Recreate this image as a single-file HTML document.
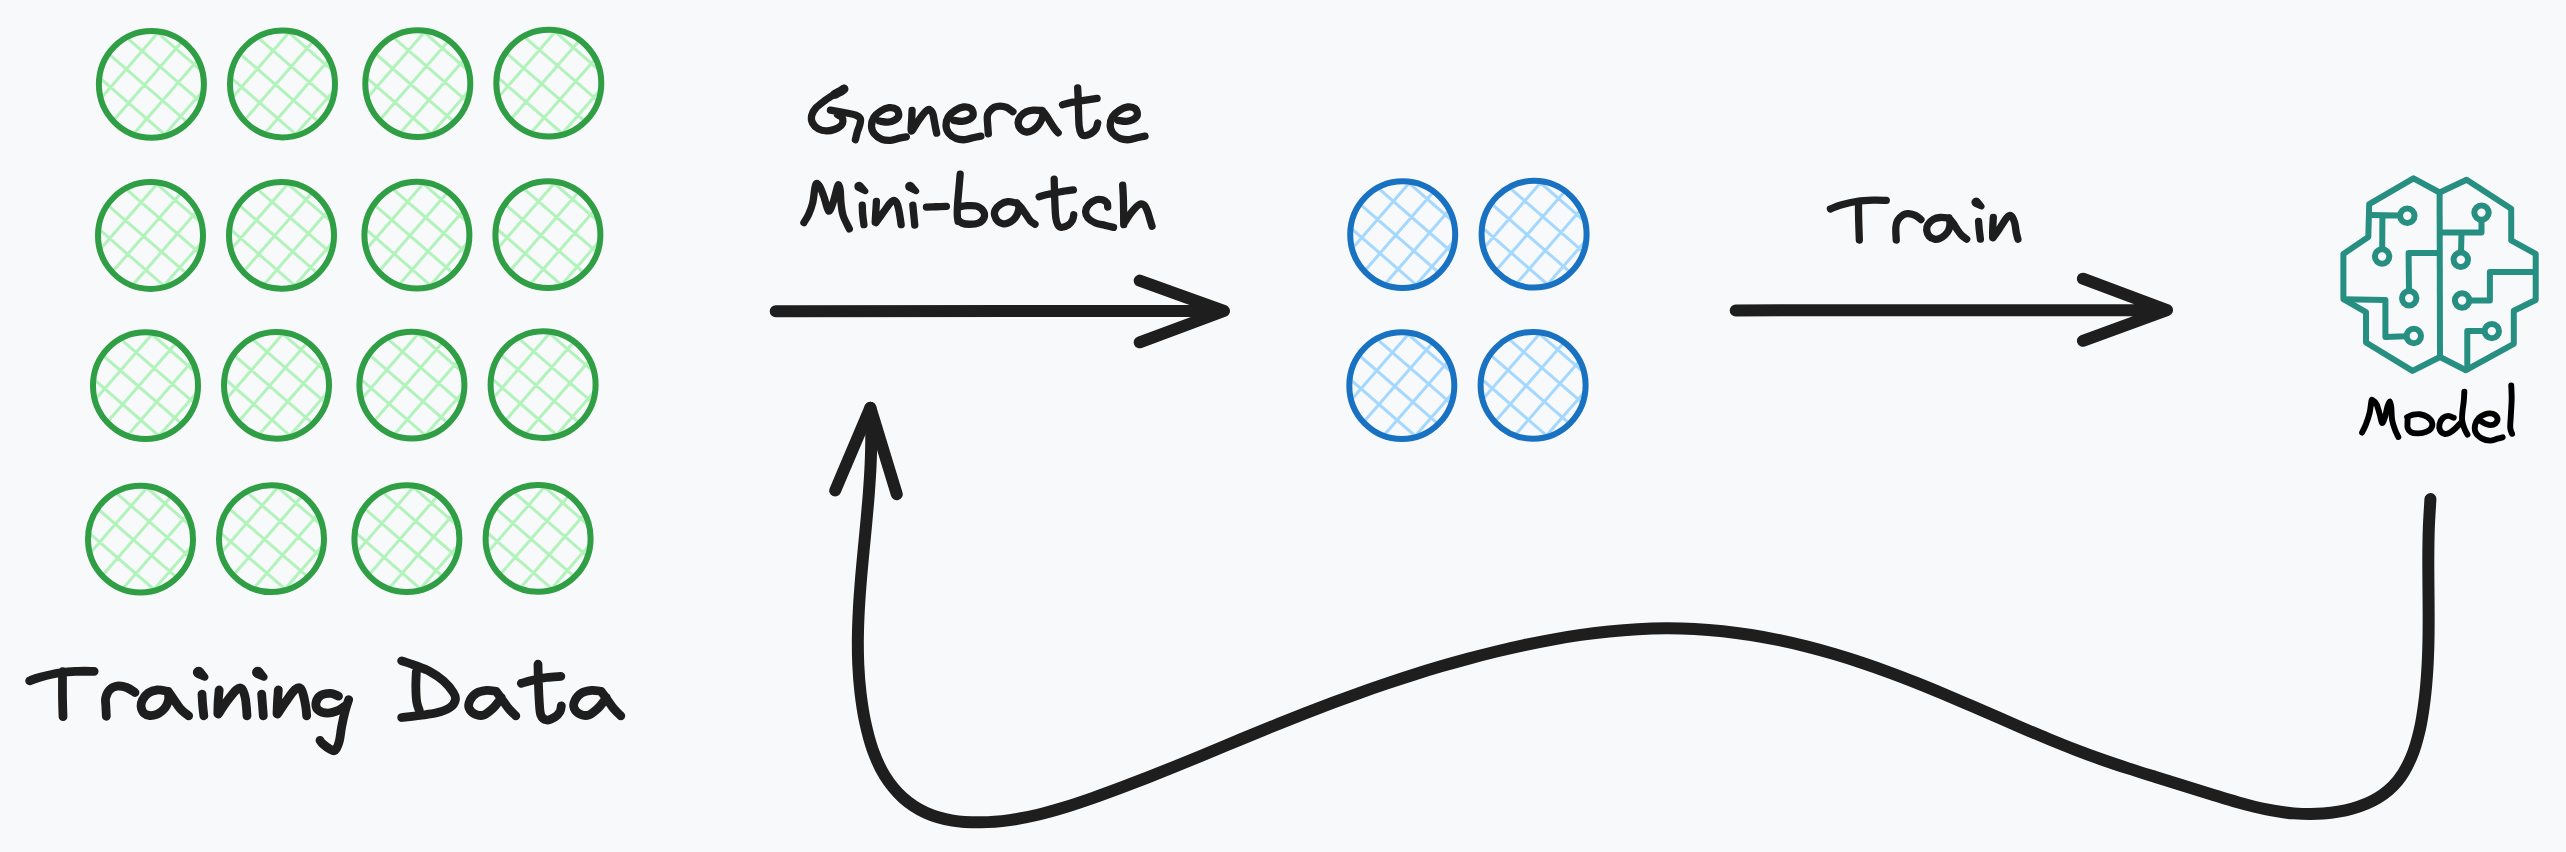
<!DOCTYPE html>
<html><head><meta charset="utf-8"><title>Mini-batch training</title>
<style>html,body{margin:0;padding:0;background:#f8f9fa;overflow:hidden;font-family:"Liberation Sans",sans-serif}svg{display:block}</style>
</head><body><svg width="2566" height="852" viewBox="0 0 2566 852"><rect width="2566" height="852" fill="#f8f9fa"/><path d="M100.8 98.5L159 31.5M113.1 120.9L182.4 41.2M133.2 134.4L198 59.8M163.3 136.3L203.6 90M166.1 135.6L99.3 77.5M187.9 122.7L108.4 53.6M200.9 102.2L126.4 37.4M202.4 71.7L155.7 31.1M231.9 98.2L290.1 31.2M244.2 120.6L313.5 40.9M264.3 134.1L329.1 59.5M294.4 136L334.7 89.7M297.2 135.3L230.4 77.2M319 122.4L239.5 53.3M332 101.9L257.5 37.1M333.5 71.4L286.8 30.8M367.2 97.9L425.4 30.9M379.5 120.3L448.8 40.6M399.6 133.8L464.4 59.2M429.7 135.7L470 89.4M432.5 135L365.7 76.9M454.3 122.1L374.8 53M467.3 101.6L392.8 36.8M468.8 71.1L422.1 30.5M498.2 97.4L556.4 30.4M510.5 119.8L579.8 40.1M530.6 133.3L595.4 58.7M560.7 135.2L601 88.9M563.5 134.5L496.7 76.4M585.3 121.6L505.8 52.5M598.3 101.1L523.8 36.3M599.8 70.6L553.1 30M99.9 249.7L158.1 182.7M112.2 272.1L181.5 192.4M132.3 285.6L197.1 211M162.4 287.5L202.7 241.2M165.2 286.8L98.4 228.7M187 273.9L107.5 204.8M200 253.4L125.5 188.6M201.5 222.9L154.8 182.3M230.9 249.5L289.1 182.5M243.2 271.9L312.5 192.2M263.3 285.4L328.1 210.8M293.4 287.3L333.7 241M296.2 286.6L229.4 228.5M318 273.7L238.5 204.6M331 253.2L256.5 188.4M332.5 222.7L285.8 182.1M366.3 249.3L424.5 182.3M378.6 271.7L447.9 192M398.7 285.2L463.5 210.6M428.8 287.1L469.1 240.8M431.6 286.4L364.8 228.3M453.4 273.5L373.9 204.4M466.4 253L391.9 188.2M467.9 222.5L421.2 181.9M497.3 248.9L555.5 181.9M509.6 271.3L578.9 191.6M529.7 284.8L594.5 210.2M559.8 286.7L600.1 240.4M562.6 286L495.8 227.9M584.4 273.1L504.9 204M597.4 252.6L522.9 187.8M598.9 222.1L552.2 181.5M94.9 399.9L153.1 332.9M107.2 422.3L176.5 342.6M127.3 435.8L192.1 361.2M157.4 437.7L197.7 391.4M160.2 437L93.4 378.9M182 424.1L102.5 355M195 403.6L120.5 338.8M196.5 373.1L149.8 332.5M225.9 399.5L284.1 332.5M238.2 421.9L307.5 342.2M258.3 435.4L323.1 360.8M288.4 437.3L328.7 391M291.2 436.6L224.4 378.5M313 423.7L233.5 354.6M326 403.2L251.5 338.4M327.5 372.7L280.8 332.1M361.3 399.3L419.5 332.3M373.6 421.7L442.9 342M393.7 435.2L458.5 360.6M423.8 437.1L464.1 390.8M426.6 436.4L359.8 378.3M448.4 423.5L368.9 354.4M461.4 403L386.9 338.2M462.9 372.5L416.2 331.9M492.5 398.9L550.7 331.9M504.8 421.3L574.1 341.6M524.9 434.8L589.7 360.2M555 436.7L595.3 390.4M557.8 436L491 377.9M579.6 423.1L500.1 354M592.6 402.6L518.1 337.8M594.1 372.1L547.4 331.5M89.9 553.4L148.1 486.4M102.2 575.8L171.5 496.1M122.3 589.3L187.1 514.7M152.4 591.2L192.7 544.9M155.2 590.5L88.4 532.4M177 577.6L97.5 508.5M190 557.1L115.5 492.3M191.5 526.6L144.8 486M220.9 552.9L279.1 485.9M233.2 575.3L302.5 495.6M253.3 588.8L318.1 514.2M283.4 590.7L323.7 544.4M286.2 590L219.4 531.9M308 577.1L228.5 508M321 556.6L246.5 491.8M322.5 526.1L275.8 485.5M356.3 552.8L414.5 485.8M368.6 575.2L437.9 495.5M388.7 588.7L453.5 514.1M418.8 590.6L459.1 544.3M421.6 589.9L354.8 531.8M443.4 577L363.9 507.9M456.4 556.5L381.9 491.7M457.9 526L411.2 485.4M487.5 552.6L545.7 485.6M499.8 575L569.1 495.3M519.9 588.5L584.7 513.9M550 590.4L590.3 544.1M552.8 589.7L486 531.6M574.6 576.8L495.1 507.7M587.6 556.3L513.1 491.5M589.1 525.8L542.4 485.2" stroke="#b2f2bb" stroke-width="3" fill="none" stroke-linecap="round"/><g fill="none" stroke="#2f9e44" stroke-width="6"><ellipse cx="151.4" cy="84.3" rx="52.5" ry="53.4"/><ellipse cx="282.5" cy="84" rx="52.5" ry="53.4"/><ellipse cx="417.8" cy="83.7" rx="52.5" ry="53.4"/><ellipse cx="548.8" cy="83.2" rx="52.5" ry="53.4"/><ellipse cx="150.5" cy="235.5" rx="52.5" ry="53.4"/><ellipse cx="281.5" cy="235.3" rx="52.5" ry="53.4"/><ellipse cx="416.9" cy="235.1" rx="52.5" ry="53.4"/><ellipse cx="547.9" cy="234.7" rx="52.5" ry="53.4"/><ellipse cx="145.5" cy="385.7" rx="52.5" ry="53.4"/><ellipse cx="276.5" cy="385.3" rx="52.5" ry="53.4"/><ellipse cx="411.9" cy="385.1" rx="52.5" ry="53.4"/><ellipse cx="543.1" cy="384.7" rx="52.5" ry="53.4"/><ellipse cx="140.5" cy="539.2" rx="52.5" ry="53.4"/><ellipse cx="271.5" cy="538.7" rx="52.5" ry="53.4"/><ellipse cx="406.9" cy="538.6" rx="52.5" ry="53.4"/><ellipse cx="538.1" cy="538.4" rx="52.5" ry="53.4"/></g><path d="M1352.1 248.8L1410.3 181.8M1364.4 271.2L1433.7 191.5M1384.5 284.7L1449.3 210.1M1414.6 286.6L1454.9 240.3M1417.4 285.9L1350.6 227.8M1439.2 273L1359.7 203.9M1452.2 252.5L1377.7 187.7M1453.7 222L1407 181.4M1483.5 248.4L1541.7 181.4M1495.8 270.8L1565.1 191.1M1515.9 284.3L1580.7 209.7M1546 286.2L1586.3 239.9M1548.8 285.5L1482 227.4M1570.6 272.6L1491.1 203.5M1583.6 252.1L1509.1 187.3M1585.1 221.6L1538.4 181M1351.2 399.9L1409.4 332.9M1363.5 422.3L1432.8 342.6M1383.6 435.8L1448.4 361.2M1413.7 437.7L1454 391.4M1416.5 437L1349.7 378.9M1438.3 424.1L1358.8 355M1451.3 403.6L1376.8 338.8M1452.8 373.1L1406.1 332.5M1482.5 399.5L1540.7 332.5M1494.8 421.9L1564.1 342.2M1514.9 435.4L1579.7 360.8M1545 437.3L1585.3 391M1547.8 436.6L1481 378.5M1569.6 423.7L1490.1 354.6M1582.6 403.2L1508.1 338.4M1584.1 372.7L1537.4 332.1" stroke="#a5d8ff" stroke-width="3" fill="none" stroke-linecap="round"/><g fill="none" stroke="#1971c2" stroke-width="6"><ellipse cx="1402.7" cy="234.6" rx="52.5" ry="53.4"/><ellipse cx="1534.1" cy="234.2" rx="52.5" ry="53.4"/><ellipse cx="1401.8" cy="385.7" rx="52.5" ry="53.4"/><ellipse cx="1533.1" cy="385.3" rx="52.5" ry="53.4"/></g><g fill="none" stroke="#1e1e1e" stroke-width="12" stroke-linecap="round" stroke-linejoin="round"><path d="M775.7 311.2L1224 311M1139.7 280.6L1224 311L1139.7 342.3"/><path d="M1735.7 310.4L2167 310.1M2082.9 278.7L2167 310.1L2082.9 340.8"/><path d="M2430.42 499.10C2430.15 504.00 2429.15 518.80 2428.80 528.47C2428.44 538.14 2428.37 547.66 2428.31 557.14C2428.25 566.63 2428.38 576.00 2428.43 585.40C2428.49 594.79 2428.65 604.11 2428.65 613.50C2428.65 622.89 2428.67 632.25 2428.44 641.73C2428.21 651.21 2427.92 660.71 2427.29 670.36C2426.66 680.02 2425.91 689.84 2424.66 699.66C2423.42 709.49 2422.04 719.72 2419.83 729.31C2417.61 738.89 2415.04 748.59 2411.35 757.20C2407.66 765.80 2403.32 774.08 2397.68 780.92C2392.04 787.75 2385.15 793.58 2377.51 798.23C2369.87 802.88 2360.91 806.27 2351.84 808.83C2342.77 811.40 2332.78 812.84 2323.08 813.59C2313.39 814.35 2303.32 814.12 2293.68 813.39C2284.04 812.65 2274.58 811.05 2265.23 809.21C2255.87 807.36 2246.72 804.84 2237.55 802.30C2228.39 799.76 2219.36 796.78 2210.25 793.96C2201.15 791.15 2192.06 788.24 2182.94 785.41C2173.82 782.58 2164.67 779.82 2155.54 776.98C2146.42 774.14 2137.28 771.33 2128.21 768.37C2119.14 765.42 2110.09 762.41 2101.11 759.24C2092.14 756.06 2083.23 752.74 2074.37 749.32C2065.51 745.91 2056.71 742.34 2047.93 738.73C2039.15 735.12 2030.42 731.40 2021.69 727.67C2012.95 723.94 2004.25 720.13 1995.54 716.34C1986.82 712.56 1978.11 708.73 1969.37 704.97C1960.63 701.20 1951.89 697.42 1943.10 693.74C1934.30 690.06 1925.48 686.40 1916.60 682.87C1907.71 679.35 1898.78 675.88 1889.77 672.57C1880.77 669.27 1871.70 666.06 1862.59 663.02C1853.47 659.98 1844.29 657.07 1835.08 654.35C1825.86 651.63 1816.59 649.05 1807.29 646.69C1797.99 644.33 1788.65 642.14 1779.28 640.19C1769.92 638.24 1760.52 636.48 1751.10 634.97C1741.68 633.47 1732.24 632.18 1722.79 631.18C1713.34 630.17 1703.86 629.42 1694.39 628.94C1684.92 628.46 1675.44 628.27 1665.97 628.31C1656.49 628.36 1647.01 628.67 1637.54 629.19C1628.06 629.72 1618.59 630.49 1609.13 631.45C1599.67 632.40 1590.22 633.59 1580.79 634.93C1571.35 636.28 1561.93 637.83 1552.53 639.53C1543.13 641.22 1533.75 643.09 1524.40 645.09C1515.04 647.08 1505.71 649.23 1496.41 651.48C1487.12 653.73 1477.85 656.11 1468.61 658.60C1459.37 661.08 1450.16 663.67 1440.98 666.36C1431.80 669.05 1422.66 671.85 1413.54 674.73C1404.42 677.61 1395.34 680.60 1386.29 683.65C1377.23 686.70 1368.21 689.84 1359.22 693.05C1350.23 696.26 1341.27 699.55 1332.35 702.89C1323.42 706.23 1314.53 709.64 1305.67 713.10C1296.81 716.56 1287.99 720.09 1279.18 723.63C1270.37 727.18 1261.60 730.79 1252.83 734.40C1244.05 738.00 1235.30 741.65 1226.53 745.28C1217.77 748.91 1209.01 752.56 1200.22 756.18C1191.43 759.80 1182.64 763.42 1173.81 767.00C1164.98 770.57 1156.13 774.13 1147.23 777.62C1138.32 781.11 1129.39 784.57 1120.39 787.94C1111.39 791.31 1102.34 794.67 1093.22 797.86C1084.11 801.04 1074.92 804.22 1065.69 807.03C1056.46 809.84 1047.16 812.54 1037.83 814.72C1028.49 816.89 1019.10 818.82 1009.68 820.09C1000.26 821.36 990.77 822.26 981.30 822.35C971.82 822.43 962.06 822.21 952.82 820.60C943.57 819.00 934.19 816.58 925.82 812.72C917.46 808.85 909.43 803.56 902.61 797.42C895.78 791.29 889.83 783.83 884.86 775.92C879.89 768.01 876.06 759.00 872.76 749.95C869.46 740.89 867.11 731.10 865.06 721.58C863.02 712.05 861.64 702.35 860.50 692.82C859.37 683.29 858.70 673.86 858.27 664.41C857.83 654.96 857.78 645.57 857.89 636.12C858.01 626.68 858.43 617.22 858.94 607.74C859.46 598.26 860.20 588.76 860.98 579.25C861.75 569.74 862.69 560.21 863.59 550.68C864.48 541.15 865.47 531.60 866.34 522.06C867.21 512.52 868.11 502.97 868.82 493.43C869.53 483.89 870.19 474.35 870.60 464.82C871.01 455.29 871.30 445.77 871.26 436.26C871.22 426.75 870.52 412.53 870.38 407.78"/><path d="M835.2 490.5L870.4 407.7L896.8 494.3"/></g><g fill="none" stroke="#278f81" stroke-width="6" stroke-linejoin="round" stroke-linecap="butt">
<path d="M2439.6 192.5L2413.5 178.4L2369.2 204.2L2368.3 237.1L2343.4 253.9L2343.4 299.2L2366 312.1L2366 342.5L2412.5 370.9L2440 357L2466 370.2L2513.8 343.8L2513.8 310.8L2535.7 300L2535.7 253.9L2511.2 240.4L2511.2 208.7L2466.6 179.7Z"/>
<path d="M2439.6 192.5L2440 357"/>
<path d="M2369.2 214.9L2400 215.6M2382.4 214.9L2382.2 249.3M2439.6 253L2408.6 253L2409 291M2343.4 299.2L2385.4 300L2385.4 337L2406.6 336.3"/>
<path d="M2481.5 219.8L2481.5 232.6L2439.6 232.6M2461.5 232.6L2461 252.5M2535.7 272L2489.9 272L2489.9 300.5L2469.3 300.5M2484.6 331.1L2467.3 331.1L2467.3 368"/>
<circle cx="2407.3" cy="215.8" r="7.2"/><circle cx="2382.1" cy="256.5" r="7.2"/><circle cx="2409.2" cy="298.3" r="7.2"/><circle cx="2413.8" cy="336" r="7.2"/>
<circle cx="2481.5" cy="212.6" r="7.2"/><circle cx="2460.8" cy="259.7" r="7.2"/><circle cx="2462.1" cy="300.5" r="7.2"/><circle cx="2491.8" cy="331.1" r="7.2"/>
</g><g fill="none" stroke-linecap="round" stroke-linejoin="round"><path d="M843.75 88.67C842.29 89.53 838.12 91.86 835.00 93.83C831.88 95.81 828.19 98.14 825.00 100.50C821.81 102.86 818.06 105.50 815.83 108.00C813.61 110.50 812.22 113.00 811.67 115.50C811.11 118.00 811.39 120.78 812.50 123.00C813.61 125.22 815.97 127.51 818.33 128.83C820.69 130.15 823.89 130.85 826.67 130.92C829.44 130.99 832.57 130.15 835.00 129.25C837.43 128.35 839.93 126.82 841.25 125.50C842.57 124.18 842.85 122.72 842.92 121.33C842.99 119.94 842.57 118.28 841.67 117.17C840.76 116.06 838.19 115.08 837.50 114.67M830.42 110.08C831.60 110.29 834.79 110.85 837.50 111.33C840.21 111.82 843.61 112.38 846.67 113.00C849.72 113.62 853.54 114.11 855.83 115.08C858.12 116.06 859.79 117.10 860.42 118.83C861.04 120.57 860.07 123.42 859.58 125.50C859.10 127.58 858.19 128.97 857.50 131.33C856.81 133.69 855.76 138.28 855.42 139.67" stroke="#1e1e1e" stroke-width="7.3"/><path d="M844.00 89.00C843.19 89.53 840.67 91.29 839.17 92.17C837.67 93.04 835.69 93.90 835.00 94.25" stroke="#1e1e1e" stroke-width="9.0"/><path d="M879.25 121.00C880.67 121.18 885.25 122.19 887.75 122.08C890.25 121.97 892.43 121.40 894.25 120.33C896.07 119.26 898.29 117.50 898.67 115.67C899.04 113.83 898.12 110.67 896.50 109.33C894.88 108.00 891.54 107.39 888.92 107.67C886.29 107.94 883.26 109.38 880.75 111.00C878.24 112.62 875.38 114.89 873.83 117.42C872.29 119.94 871.43 123.43 871.50 126.17C871.57 128.90 872.51 131.64 874.25 133.83C875.99 136.03 879.17 138.25 881.92 139.33C884.67 140.42 887.82 140.53 890.75 140.33C893.68 140.14 896.90 138.75 899.50 138.17C902.10 137.58 905.19 137.06 906.33 136.83" stroke="#1e1e1e" stroke-width="7.3"/><path d="M912.08 110.33C912.01 112.03 911.78 117.06 911.67 120.50C911.56 123.94 910.58 130.51 911.42 131.00C912.25 131.49 914.82 126.07 916.67 123.42C918.51 120.76 920.56 117.40 922.50 115.08C924.44 112.76 926.67 109.85 928.33 109.50C930.00 109.15 931.53 111.17 932.50 113.00C933.47 114.83 933.68 118.14 934.17 120.50C934.65 122.86 935.00 125.06 935.42 127.17C935.83 129.28 936.46 132.17 936.67 133.17" stroke="#1e1e1e" stroke-width="7.3"/><path d="M953.75 120.33C955.17 120.51 959.75 121.53 962.25 121.42C964.75 121.31 966.93 120.74 968.75 119.67C970.57 118.60 972.79 116.83 973.17 115.00C973.54 113.17 972.62 110.00 971.00 108.67C969.38 107.33 966.04 106.72 963.42 107.00C960.79 107.28 957.76 108.71 955.25 110.33C952.74 111.96 949.88 114.22 948.33 116.75C946.79 119.28 945.93 122.76 946.00 125.50C946.07 128.24 947.01 130.97 948.75 133.17C950.49 135.36 953.67 137.58 956.42 138.67C959.17 139.75 962.32 139.86 965.25 139.67C968.18 139.47 971.40 138.08 974.00 137.50C976.60 136.92 979.69 136.39 980.83 136.17" stroke="#1e1e1e" stroke-width="7.3"/><path d="M988.33 133.83C988.22 132.31 987.83 127.58 987.67 124.67C987.50 121.75 987.08 118.49 987.33 116.33C987.58 114.18 988.03 113.25 989.17 111.75C990.31 110.25 992.36 108.28 994.17 107.33C995.97 106.39 997.92 106.08 1000.00 106.08C1002.08 106.08 1004.51 106.39 1006.67 107.33C1008.82 108.28 1011.88 111.01 1012.92 111.75M1042.33 110.67C1040.83 110.57 1036.01 109.90 1033.33 110.08C1030.65 110.26 1028.44 110.64 1026.25 111.75C1024.06 112.86 1021.51 114.81 1020.17 116.75C1018.82 118.69 1018.06 121.33 1018.17 123.42C1018.28 125.50 1019.42 127.82 1020.83 129.25C1022.25 130.68 1024.64 131.85 1026.67 132.00C1028.69 132.15 1031.06 131.28 1033.00 130.17C1034.94 129.06 1036.86 127.19 1038.33 125.33C1039.81 123.47 1041.07 120.92 1041.83 119.00C1042.60 117.08 1042.83 115.22 1042.92 113.83C1043.00 112.44 1042.43 111.19 1042.33 110.67M1042.33 110.67C1042.99 111.47 1044.83 113.44 1046.25 115.50C1047.67 117.56 1049.38 120.71 1050.83 123.00C1052.29 125.29 1053.78 127.61 1055.00 129.25C1056.22 130.89 1057.64 132.24 1058.17 132.83M1077.67 87.83C1077.75 89.67 1078.01 94.64 1078.17 98.83C1078.32 103.03 1078.42 108.42 1078.58 113.00C1078.75 117.58 1078.72 122.86 1079.17 126.33C1079.61 129.81 1080.28 132.28 1081.25 133.83C1082.22 135.39 1083.40 135.69 1085.00 135.67C1086.60 135.64 1089.03 134.78 1090.83 133.67C1092.64 132.56 1094.69 130.78 1095.83 129.00C1096.97 127.22 1097.36 124.00 1097.67 123.00M1062.50 104.67C1064.03 104.28 1068.06 103.06 1071.67 102.33C1075.28 101.61 1079.93 100.99 1084.17 100.33C1088.40 99.68 1094.93 98.74 1097.08 98.42" stroke="#1e1e1e" stroke-width="7.3"/><path d="M1117.92 120.33C1119.33 120.51 1123.92 121.53 1126.42 121.42C1128.92 121.31 1131.10 120.74 1132.92 119.67C1134.74 118.60 1136.96 116.83 1137.33 115.00C1137.71 113.17 1136.79 110.00 1135.17 108.67C1133.54 107.33 1130.21 106.72 1127.58 107.00C1124.96 107.28 1121.93 108.71 1119.42 110.33C1116.90 111.96 1114.04 114.22 1112.50 116.75C1110.96 119.28 1110.10 122.76 1110.17 125.50C1110.24 128.24 1111.18 130.97 1112.92 133.17C1114.65 135.36 1117.83 137.58 1120.58 138.67C1123.33 139.75 1126.49 139.86 1129.42 139.67C1132.35 139.47 1135.57 138.08 1138.17 137.50C1140.76 136.92 1143.86 136.39 1145.00 136.17" stroke="#1e1e1e" stroke-width="7.3"/><path d="M803.92 222.58C804.68 221.26 807.04 217.93 808.50 214.67C809.96 211.40 811.62 207.31 812.67 203.00C813.71 198.69 814.12 192.10 814.75 188.83C815.38 185.57 815.51 183.69 816.42 183.42C817.32 183.14 818.85 184.74 820.17 187.17C821.49 189.60 822.94 194.04 824.33 198.00C825.72 201.96 827.11 209.94 828.50 210.92C829.89 211.89 831.28 207.51 832.67 203.83C834.06 200.15 835.86 192.03 836.83 188.83C837.81 185.64 837.94 184.53 838.50 184.67C839.06 184.81 839.75 186.61 840.17 189.67C840.58 192.72 840.51 198.69 841.00 203.00C841.49 207.31 841.69 211.19 843.08 215.50C844.47 219.81 848.29 226.61 849.33 228.83M862.25 205.08C862.32 206.68 862.39 211.40 862.67 214.67C862.94 217.93 863.71 223.00 863.92 224.67M876.42 201.33C876.32 203.00 876.04 207.86 875.83 211.33C875.62 214.81 875.28 220.36 875.17 222.17M876.00 222.58C876.69 221.61 878.78 218.69 880.17 216.75C881.56 214.81 882.94 212.86 884.33 210.92C885.72 208.97 887.11 206.79 888.50 205.08C889.89 203.38 891.31 201.04 892.67 200.67C894.03 200.29 895.62 201.19 896.67 202.83C897.71 204.47 898.33 207.97 898.92 210.50C899.50 213.03 899.79 215.64 900.17 218.00C900.54 220.36 901.00 223.56 901.17 224.67M912.83 205.08C912.99 206.68 913.43 211.33 913.75 214.67C914.07 218.00 914.58 223.35 914.75 225.08M926.42 207.17C928.01 207.10 932.67 206.89 936.00 206.75C939.33 206.61 944.68 206.40 946.42 206.33M960.17 174.25C959.96 176.68 959.33 184.04 958.92 188.83C958.50 193.62 957.94 198.69 957.67 203.00C957.39 207.31 957.18 211.61 957.25 214.67C957.32 217.72 957.94 220.22 958.08 221.33M958.08 207.17C959.54 206.92 963.71 205.83 966.83 205.67C969.96 205.50 974.06 205.22 976.83 206.17C979.61 207.11 982.32 209.36 983.50 211.33C984.68 213.31 984.75 216.06 983.92 218.00C983.08 219.94 980.93 221.96 978.50 223.00C976.07 224.04 972.11 224.25 969.33 224.25C966.56 224.25 963.71 223.76 961.83 223.00C959.96 222.24 958.71 220.22 958.08 219.67" stroke="#1e1e1e" stroke-width="7.3"/><path d="M1016.92 203.08C1015.39 202.85 1010.57 201.40 1007.75 201.67C1004.93 201.93 1002.10 203.26 1000.00 204.67C997.90 206.07 996.04 208.24 995.17 210.08C994.29 211.93 994.29 213.88 994.75 215.75C995.21 217.62 996.46 219.99 997.92 221.33C999.38 222.68 1001.76 223.58 1003.50 223.83C1005.24 224.08 1006.69 223.53 1008.33 222.83C1009.97 222.14 1011.97 220.85 1013.33 219.67C1014.69 218.49 1015.62 217.35 1016.50 215.75C1017.38 214.15 1018.21 211.65 1018.58 210.08C1018.96 208.51 1019.03 207.50 1018.75 206.33C1018.47 205.17 1017.22 203.62 1016.92 203.08M1016.92 203.08C1017.68 203.90 1019.97 206.07 1021.50 208.00C1023.03 209.93 1024.60 212.51 1026.08 214.67C1027.57 216.82 1028.93 219.32 1030.42 220.92C1031.90 222.51 1034.24 223.69 1035.00 224.25M1054.17 179.25C1054.24 181.54 1054.44 188.62 1054.58 193.00C1054.72 197.38 1054.79 201.33 1055.00 205.50C1055.21 209.67 1055.35 214.74 1055.83 218.00C1056.32 221.26 1056.94 223.53 1057.92 225.08C1058.89 226.64 1059.93 227.33 1061.67 227.33C1063.40 227.33 1066.53 226.29 1068.33 225.08C1070.14 223.88 1071.60 221.79 1072.50 220.08C1073.40 218.38 1073.54 215.71 1073.75 214.83M1039.17 196.75C1040.69 196.33 1044.72 195.08 1048.33 194.25C1051.94 193.42 1056.67 192.47 1060.83 191.75C1065.00 191.03 1071.25 190.22 1073.33 189.92M1107.67 207.00C1107.57 206.33 1107.94 204.19 1107.08 203.00C1106.22 201.81 1104.38 200.36 1102.50 199.83C1100.62 199.31 1098.12 199.03 1095.83 199.83C1093.54 200.64 1090.44 202.75 1088.75 204.67C1087.06 206.58 1085.81 209.11 1085.67 211.33C1085.53 213.56 1086.29 216.06 1087.92 218.00C1089.54 219.94 1092.57 221.78 1095.42 223.00C1098.26 224.22 1101.99 224.61 1105.00 225.33C1108.01 226.06 1112.08 227.00 1113.50 227.33M1122.67 185.08C1122.78 187.10 1123.18 193.07 1123.33 197.17C1123.49 201.26 1123.51 205.08 1123.58 209.67C1123.65 214.25 1123.72 222.17 1123.75 224.67M1124.33 223.00C1125.56 221.19 1129.19 215.22 1131.67 212.17C1134.14 209.11 1137.08 205.85 1139.17 204.67C1141.25 203.49 1142.78 203.97 1144.17 205.08C1145.56 206.19 1146.53 208.90 1147.50 211.33C1148.47 213.76 1149.24 217.17 1150.00 219.67C1150.76 222.17 1151.74 225.22 1152.08 226.33" stroke="#1e1e1e" stroke-width="7.3"/><path d="M1830.42 209.00C1832.15 208.33 1836.32 206.29 1840.83 205.00C1845.35 203.71 1851.94 202.06 1857.50 201.25C1863.06 200.44 1869.38 200.31 1874.17 200.17C1878.96 200.03 1884.24 200.38 1886.25 200.42M1858.50 202.50C1858.51 204.58 1858.51 210.83 1858.58 215.00C1858.65 219.17 1858.79 223.33 1858.92 227.50C1859.04 231.67 1859.26 237.92 1859.33 240.00M1896.25 240.00C1896.18 237.92 1895.60 230.76 1895.83 227.50C1896.07 224.24 1896.42 222.54 1897.67 220.42C1898.92 218.29 1901.56 215.88 1903.33 214.75C1905.11 213.62 1906.25 213.51 1908.33 213.67C1910.42 213.82 1913.72 214.68 1915.83 215.67C1917.94 216.65 1920.14 218.93 1921.00 219.58M1949.00 218.00C1947.50 217.92 1942.61 217.28 1940.00 217.50C1937.39 217.72 1935.35 218.15 1933.33 219.33C1931.32 220.51 1929.03 222.81 1927.92 224.58C1926.81 226.36 1926.46 228.06 1926.67 230.00C1926.88 231.94 1927.85 234.72 1929.17 236.25C1930.49 237.78 1932.78 238.82 1934.58 239.17C1936.39 239.51 1938.26 239.03 1940.00 238.33C1941.74 237.64 1943.54 236.42 1945.00 235.00C1946.46 233.58 1947.92 231.78 1948.75 229.83C1949.58 227.89 1949.96 225.31 1950.00 223.33C1950.04 221.36 1949.17 218.89 1949.00 218.00M1949.00 218.00C1949.72 218.89 1951.92 221.33 1953.33 223.33C1954.75 225.33 1956.11 227.99 1957.50 230.00C1958.89 232.01 1960.14 233.89 1961.67 235.42C1963.19 236.94 1965.83 238.54 1966.67 239.17M1978.58 221.50C1978.69 222.85 1978.94 226.64 1979.25 229.58C1979.56 232.53 1980.22 237.57 1980.42 239.17M1993.33 217.50C1993.24 219.24 1992.86 224.58 1992.75 227.92C1992.64 231.25 1992.68 235.90 1992.67 237.50M1993.17 237.67C1994.17 236.25 1996.92 232.46 1999.17 229.17C2001.42 225.88 2004.72 220.17 2006.67 217.92C2008.61 215.67 2009.51 214.90 2010.83 215.67C2012.15 216.43 2013.68 219.69 2014.58 222.50C2015.49 225.31 2015.69 229.72 2016.25 232.50C2016.81 235.28 2017.64 238.06 2017.92 239.17" stroke="#1e1e1e" stroke-width="7.3"/><path d="M2362.08 432.58C2362.71 431.26 2364.58 427.93 2365.83 424.67C2367.08 421.40 2368.68 416.75 2369.58 413.00C2370.49 409.25 2370.79 404.36 2371.25 402.17C2371.71 399.97 2371.43 399.42 2372.33 399.83C2373.24 400.25 2375.39 402.06 2376.67 404.67C2377.94 407.28 2379.10 412.44 2380.00 415.50C2380.90 418.56 2381.25 422.72 2382.08 423.00C2382.92 423.28 2384.10 419.94 2385.00 417.17C2385.90 414.39 2386.69 408.97 2387.50 406.33C2388.31 403.69 2389.21 401.19 2389.83 401.33C2390.46 401.47 2390.88 404.11 2391.25 407.17C2391.62 410.22 2391.46 415.92 2392.08 419.67C2392.71 423.42 2393.96 426.78 2395.00 429.67C2396.04 432.56 2397.78 435.78 2398.33 437.00M2407.08 417.17C2408.12 416.75 2411.18 415.15 2413.33 414.67C2415.49 414.18 2417.64 413.86 2420.00 414.25C2422.36 414.64 2425.49 415.61 2427.50 417.00C2429.51 418.39 2431.53 420.61 2432.08 422.58C2432.64 424.56 2432.01 427.21 2430.83 428.83C2429.65 430.46 2427.22 431.57 2425.00 432.33C2422.78 433.10 2419.86 433.44 2417.50 433.42C2415.14 433.39 2412.47 433.07 2410.83 432.17C2409.19 431.26 2408.22 429.67 2407.67 428.00C2407.11 426.33 2407.50 423.69 2407.50 422.17C2407.50 420.64 2407.64 419.39 2407.67 418.83M2453.75 417.83C2452.85 417.51 2450.14 415.89 2448.33 415.92C2446.53 415.94 2444.38 416.68 2442.92 418.00C2441.46 419.32 2440.07 421.82 2439.58 423.83C2439.10 425.85 2439.17 428.42 2440.00 430.08C2440.83 431.75 2442.92 433.42 2444.58 433.83C2446.25 434.25 2448.12 433.56 2450.00 432.58C2451.88 431.61 2453.96 429.74 2455.83 428.00C2457.71 426.26 2460.35 423.14 2461.25 422.17M2464.33 391.75C2464.24 393.35 2464.06 398.07 2463.75 401.33C2463.44 404.60 2462.78 408.28 2462.50 411.33C2462.22 414.39 2461.81 416.89 2462.08 419.67C2462.36 422.44 2463.26 425.50 2464.17 428.00C2465.07 430.50 2466.94 433.56 2467.50 434.67M2479.83 420.33C2480.69 420.89 2483.24 422.88 2485.00 423.67C2486.76 424.46 2488.68 425.12 2490.42 425.08C2492.15 425.04 2494.24 424.43 2495.42 423.42C2496.60 422.40 2497.57 420.43 2497.50 419.00C2497.43 417.57 2496.25 415.76 2495.00 414.83C2493.75 413.90 2491.74 413.47 2490.00 413.42C2488.26 413.36 2486.42 413.76 2484.58 414.50C2482.75 415.24 2480.57 416.14 2479.00 417.83C2477.43 419.53 2475.72 422.21 2475.17 424.67C2474.61 427.12 2474.58 430.29 2475.67 432.58C2476.75 434.88 2479.28 437.07 2481.67 438.42C2484.06 439.76 2487.36 440.62 2490.00 440.67C2492.64 440.71 2495.39 439.22 2497.50 438.67C2499.61 438.11 2501.81 437.56 2502.67 437.33M2511.25 385.50C2511.32 387.72 2511.74 393.83 2511.67 398.83C2511.60 403.83 2511.07 410.64 2510.83 415.50C2510.60 420.36 2510.04 424.94 2510.25 428.00C2510.46 431.06 2511.78 432.86 2512.08 433.83" stroke="#000" stroke-width="5.9"/><path d="M29.67 680.83C31.39 680.22 34.67 678.56 40.00 677.17C45.33 675.78 55.28 673.47 61.67 672.50C68.06 671.53 72.92 671.53 78.33 671.33C83.75 671.14 91.53 671.33 94.17 671.33M62.50 671.67C62.50 675.83 62.42 689.17 62.50 696.67C62.58 704.17 62.92 713.33 63.00 716.67M106.33 716.33C106.25 714.58 105.94 708.89 105.83 705.83C105.72 702.78 105.06 700.64 105.67 698.00C106.28 695.36 107.61 691.97 109.50 690.00C111.39 688.03 114.14 686.58 117.00 686.17C119.86 685.75 123.67 686.44 126.67 687.50C129.67 688.56 133.61 691.67 135.00 692.50M168.17 691.33C166.33 691.11 160.47 689.72 157.17 690.00C153.86 690.28 150.78 691.33 148.33 693.00C145.89 694.67 143.69 697.67 142.50 700.00C141.31 702.33 140.89 704.78 141.17 707.00C141.44 709.22 142.72 711.92 144.17 713.33C145.61 714.75 147.75 715.33 149.83 715.50C151.92 715.67 154.64 715.08 156.67 714.33C158.69 713.58 160.39 712.42 162.00 711.00C163.61 709.58 165.22 707.81 166.33 705.83C167.44 703.86 168.36 701.58 168.67 699.17C168.97 696.75 168.25 692.64 168.17 691.33M168.17 691.33C169.17 692.78 172.14 697.11 174.17 700.00C176.19 702.89 177.92 706.03 180.33 708.67C182.75 711.31 187.28 714.64 188.67 715.83M202.00 694.17C202.11 695.97 202.36 701.39 202.67 705.00C202.97 708.61 203.64 714.03 203.83 715.83M219.17 690.00C219.00 691.94 218.39 697.69 218.17 701.67C217.94 705.64 217.89 711.81 217.83 713.83M218.33 714.17C219.72 712.08 223.61 705.75 226.67 701.67C229.72 697.58 234.17 691.83 236.67 689.67C239.17 687.50 240.28 687.50 241.67 688.67C243.06 689.83 244.22 693.67 245.00 696.67C245.78 699.67 246.00 703.47 246.33 706.67C246.67 709.86 246.89 714.31 247.00 715.83M261.67 694.17C261.81 695.97 262.22 701.39 262.50 705.00C262.78 708.61 263.19 714.03 263.33 715.83M278.33 690.00C278.19 691.94 277.72 697.69 277.50 701.67C277.28 705.64 277.08 711.81 277.00 713.83M277.50 714.17C278.89 712.08 282.92 705.75 285.83 701.67C288.75 697.58 292.50 691.83 295.00 689.67C297.50 687.50 299.31 687.22 300.83 688.67C302.36 690.11 303.31 695.06 304.17 698.33C305.03 701.61 305.58 705.42 306.00 708.33C306.42 711.25 306.56 714.58 306.67 715.83M338.50 696.17C337.25 695.69 333.92 693.47 331.00 693.33C328.08 693.19 323.50 693.75 321.00 695.33C318.50 696.92 316.42 700.33 316.00 702.83C315.58 705.33 316.56 708.61 318.50 710.33C320.44 712.06 324.33 713.17 327.67 713.17C331.00 713.17 335.44 711.64 338.50 710.33C341.56 709.03 344.75 706.17 346.00 705.33M348.67 699.67C348.06 701.67 346.17 707.17 345.00 711.67C343.83 716.17 342.64 721.67 341.67 726.67C340.69 731.67 340.28 737.72 339.17 741.67C338.06 745.61 336.53 749.08 335.00 750.33C333.47 751.58 332.08 750.28 330.00 749.17C327.92 748.06 324.17 745.14 322.50 743.67C320.83 742.19 320.42 740.89 320.00 740.33" stroke="#1e1e1e" stroke-width="8.8"/><path d="M401.67 660.83C403.89 661.58 410.28 663.53 415.00 665.33C419.72 667.14 425.28 669.08 430.00 671.67C434.72 674.25 439.44 677.36 443.33 680.83C447.22 684.31 451.33 689.31 453.33 692.50C455.33 695.69 455.89 697.50 455.33 700.00C454.78 702.50 453.11 705.36 450.00 707.50C446.89 709.64 441.67 711.53 436.67 712.83C431.67 714.14 425.83 714.56 420.00 715.33C414.17 716.11 404.72 717.14 401.67 717.50M416.33 671.67C416.25 674.17 415.78 681.67 415.83 686.67C415.89 691.67 416.11 697.78 416.67 701.67C417.22 705.56 418.75 708.61 419.17 710.00M538.00 664.17C538.06 666.81 538.14 674.03 538.33 680.00C538.53 685.97 538.75 694.17 539.17 700.00C539.58 705.83 539.58 711.67 540.83 715.00C542.08 718.33 544.31 719.67 546.67 720.00C549.03 720.33 552.78 718.39 555.00 717.00C557.22 715.61 558.94 713.53 560.00 711.67C561.06 709.81 561.11 706.81 561.33 705.83M521.33 683.33C523.33 682.78 529.11 680.97 533.33 680.00C537.56 679.03 542.08 678.11 546.67 677.50C551.25 676.89 558.47 676.53 560.83 676.33" stroke="#1e1e1e" stroke-width="8.8"/><path d="M496.17 691.33C494.58 691.17 489.92 690.06 486.67 690.33C483.42 690.61 479.44 691.33 476.67 693.00C473.89 694.67 471.25 697.78 470.00 700.33C468.75 702.89 468.19 705.97 469.17 708.33C470.14 710.69 473.33 713.42 475.83 714.50C478.33 715.58 481.31 715.86 484.17 714.83C487.03 713.81 490.50 710.67 493.00 708.33C495.50 706.00 497.78 702.64 499.17 700.83C500.56 699.03 500.97 698.06 501.33 697.50M496.17 691.33C497.22 692.78 500.33 697.03 502.50 700.00C504.67 702.97 506.94 706.53 509.17 709.17C511.39 711.81 514.72 714.72 515.83 715.83" stroke="#1e1e1e" stroke-width="8.8"/><path d="M601.17 691.33C599.58 691.17 594.92 690.06 591.67 690.33C588.42 690.61 584.44 691.33 581.67 693.00C578.89 694.67 576.25 697.78 575.00 700.33C573.75 702.89 573.19 705.97 574.17 708.33C575.14 710.69 578.33 713.42 580.83 714.50C583.33 715.58 586.31 715.86 589.17 714.83C592.03 713.81 595.50 710.67 598.00 708.33C600.50 706.00 602.78 702.64 604.17 700.83C605.56 699.03 605.97 698.06 606.33 697.50M601.17 691.33C602.22 692.78 605.33 697.03 607.50 700.00C609.67 702.97 611.94 706.53 614.17 709.17C616.39 711.81 619.72 714.72 620.83 715.83" stroke="#1e1e1e" stroke-width="8.8"/></g><path fill="#1e1e1e" d="M857.18 190.87L864.05 193.99A3.10 3.10 0 0 0 867.70 189.17L862.83 183.40A4.80 4.80 0 1 0 857.18 190.87ZM908.02 190.87L914.89 193.99A3.10 3.10 0 0 0 918.53 189.17L913.67 183.40A4.80 4.80 0 1 0 908.02 190.87ZM1974.42 206.77L1980.32 209.20A3.10 3.10 0 0 0 1983.95 204.43L1980.04 199.39A4.80 4.80 0 1 0 1974.42 206.77ZM196.57 677.85L203.30 680.49A3.75 3.75 0 0 0 207.64 674.71L203.22 668.99A5.75 5.75 0 1 0 196.57 677.85ZM255.73 677.85L262.46 680.49A3.75 3.75 0 0 0 266.80 674.71L262.39 668.99A5.75 5.75 0 1 0 255.73 677.85Z"/></svg></body></html>
